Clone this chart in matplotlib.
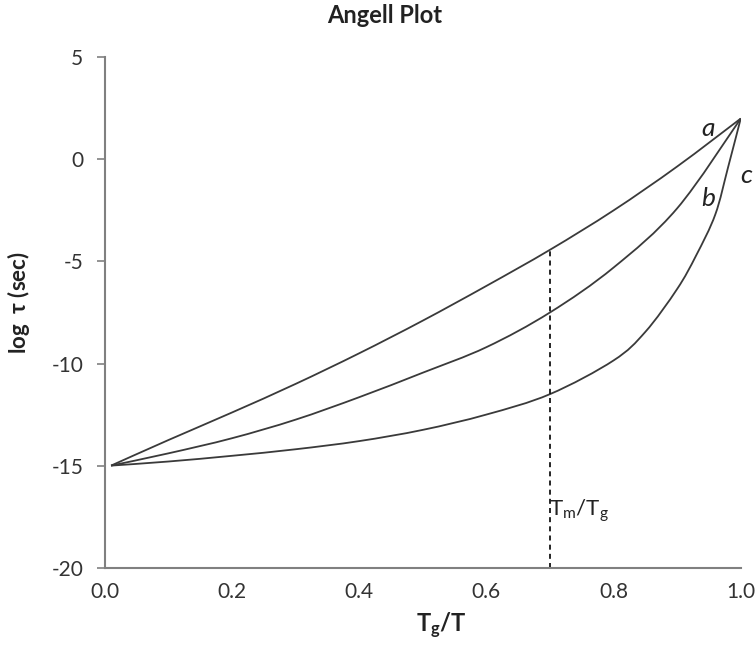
import numpy as np
import matplotlib
matplotlib.use("Agg")
import matplotlib.pyplot as plt
from matplotlib.path import Path
from matplotlib.patches import PathPatch

# --- Fonts ---
plt.rcParams['font.family'] = ['Lato', 'DejaVu Sans']
plt.rcParams['mathtext.fontset'] = 'custom'
plt.rcParams['mathtext.rm'] = 'Lato'
plt.rcParams['mathtext.it'] = 'Lato:italic'
plt.rcParams['mathtext.bf'] = 'Lato:bold'

# --- Data ---
x_a = [0.01, 0.1, 0.2, 0.3, 0.4, 0.5, 0.6, 0.7, 0.8, 0.9, 1.0]
y_a = [-15.0, -13.75, -12.4, -11.0, -9.5, -7.9, -6.2, -4.43, -2.5, -0.35, 2.0]

x_b = [0.01, 0.1, 0.2, 0.3, 0.4, 0.5, 0.6, 0.7, 0.8, 0.9, 1.0]
y_b = [-15.0, -14.4, -13.66, -12.75, -11.65, -10.45, -9.2, -7.5, -5.3, -2.4, 2.0]

x_c = [0.01, 0.1, 0.2, 0.3, 0.4, 0.5, 0.6, 0.7, 0.8, 0.85, 0.9, 0.93, 0.96, 0.98, 1.0]
y_c = [-15.0, -14.8, -14.52, -14.2, -13.8, -13.25, -12.5, -11.5, -9.85, -8.45, -6.35, -4.7, -2.7, -0.4, 2.0]

tm_tg_x = 0.7          # melting point marker
tm_tg_top = y_a[x_a.index(tm_tg_x)]

x_ticks = [0.0, 0.2, 0.4, 0.6, 0.8, 1.0]
y_ticks = [-20, -15, -10, -5, 0, 5]

curve_labels = ['a', 'b', 'c']
label_pos = [(0.949, 1.5), (0.949, -1.9), (1.008, -0.8)]

LINE_COLOR = "#3a3a3a"
AXIS_COLOR = "#808080"
TEXT_COLOR = "#222222"


# --- Smoothed line like a spreadsheet "smooth line" (Catmull-Rom as Bezier) ---
def smooth_path(xs, ys):
    pts = np.column_stack([xs, ys])
    verts = [pts[0]]
    codes = [Path.MOVETO]
    n = len(pts)
    for i in range(n - 1):
        p0 = pts[i - 1] if i > 0 else pts[i]
        p1, p2 = pts[i], pts[i + 1]
        p3 = pts[i + 2] if i + 2 < n else pts[i + 1]
        c1 = p1 + (p2 - p0) / 6.0
        c2 = p2 - (p3 - p1) / 6.0
        verts += [c1, c2, p2]
        codes += [Path.CURVE4] * 3
    return Path(verts, codes)


# --- Figure ---
fig = plt.figure(figsize=(7.56, 6.49), dpi=100)
ax = fig.add_axes([0.1385, 0.1253, 0.8413, 0.7864])

for xs, ys in [(x_a, y_a), (x_b, y_b), (x_c, y_c)]:
    ax.add_patch(PathPatch(smooth_path(xs, ys), fill=False,
                           edgecolor=LINE_COLOR, lw=1.3))

ax.vlines(tm_tg_x, -20, tm_tg_top, colors="black", lw=1.2,
          linestyles=(0, (3, 2.5)))

for lab, (lx, ly) in zip(curve_labels, label_pos):
    ax.text(lx, ly, lab, fontsize=19, style='italic', ha='center',
            va='center', color=TEXT_COLOR)

ax.text(tm_tg_x - 0.002, -17.2, r'$\mathrm{T_m/T_g}$', fontsize=16,
        ha='left', va='center', color=TEXT_COLOR)

# --- Axes formatting ---
ax.set_xlim(0, 1.0)
ax.set_ylim(-20, 5)
ax.set_xticks(x_ticks)
ax.set_xticklabels([f"{v:.1f}" for v in x_ticks])
ax.set_yticks(y_ticks)
ax.set_yticklabels([str(v) for v in y_ticks])

for side in ['top', 'right']:
    ax.spines[side].set_visible(False)
for side in ['left', 'bottom']:
    ax.spines[side].set_color(AXIS_COLOR)
    ax.spines[side].set_linewidth(1.5)

ax.tick_params(axis='x', length=0, pad=10, labelsize=15, colors="#333333")
ax.tick_params(axis='y', length=5.5, width=1.2, color=AXIS_COLOR, pad=10,
               labelsize=15, labelcolor="#333333")

ax.set_title("Angell Plot", fontsize=17, fontweight='bold', pad=25,
             color=TEXT_COLOR, x=0.44)
ax.set_xlabel(r'$\mathbf{T_g/T}$', fontsize=17, color=TEXT_COLOR)
ax.xaxis.set_label_coords(0.529, -0.085)
ax.set_ylabel(r'log  $\mathbf{\tau}$ (sec)', fontsize=16, fontweight='bold',
              color=TEXT_COLOR)
ax.yaxis.set_label_coords(-0.114, 0.52)

fig.savefig("out.png", dpi=100)
